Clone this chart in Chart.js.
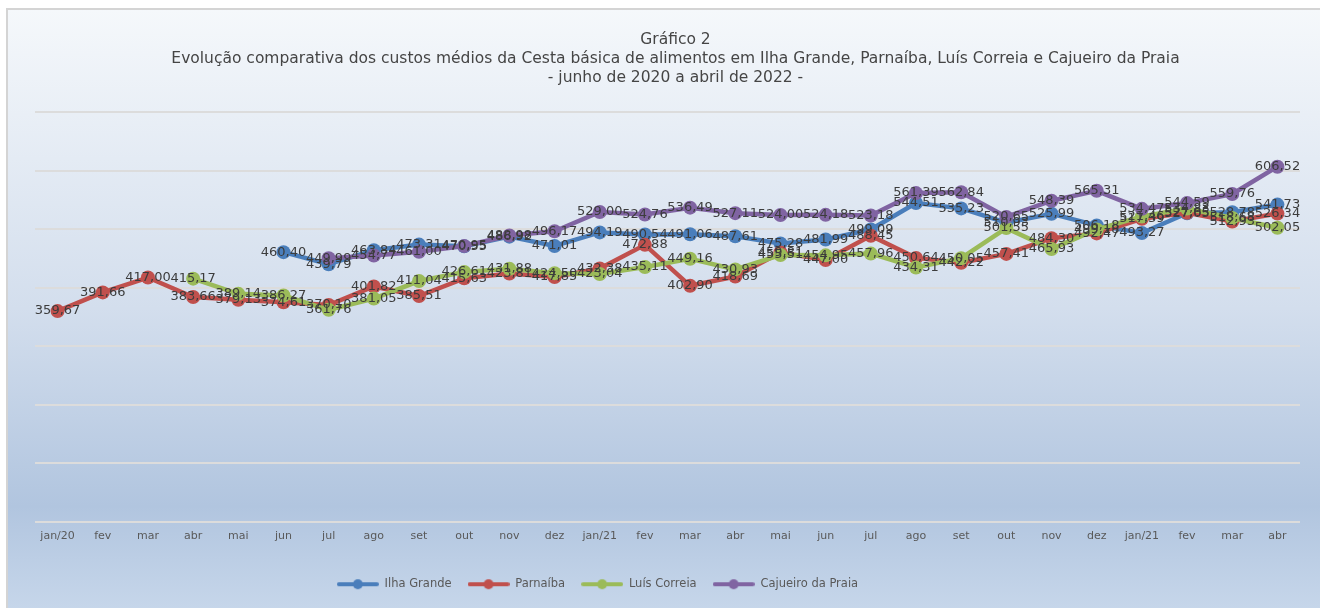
<!DOCTYPE html>
<html>
<head>
<meta charset="utf-8">
<script src="https://cdn.jsdelivr.net/npm/chart.js@4"></script>
<style>
  html, body { margin: 0; padding: 0; background: #ffffff; }
  #wrap { width: 1320px; height: 608px; }
</style>
</head>
<body>
<div id="wrap"><canvas id="cestaChart" width="1320" height="608"></canvas></div>
<script>
// categories (as printed on the original axis)
var months = ['jan/20', 'fev', 'mar', 'abr', 'mai', 'jun', 'jul', 'ago', 'set', 'out', 'nov', 'dez',
              'jan/21', 'fev', 'mar', 'abr', 'mai', 'jun', 'jul', 'ago', 'set', 'out', 'nov', 'dez',
              'jan/21', 'fev', 'mar', 'abr'];

var ilhaGrande = [null, null, null, null, null, 460.40, 439.79, 463.84, 473.31, 470.55, 486.92, 471.01,
                  494.19, 490.54, 491.06, 487.61, 475.28, 481.99, 499.09, 544.51, 535.23, 510.93, 525.99, 506.18,
                  493.27, 527.05, 528.78, 541.73];

var parnaiba = [359.67, 391.66, 417.00, 383.66, 379.13, 374.61, 370.10, 401.82, 385.51, 415.63, 423.81, 417.85,
                432.38, 472.88, 402.90, 418.69, 459.81, 447.00, 488.45, 450.64, 442.22, 457.41, 484.30, 492.47,
                517.39, 527.65, 512.93, 526.34];

var luisCorreia = [null, null, null, 415.17, 389.14, 386.27, 361.76, 381.05, 411.04, 426.61, 431.88, 424.50,
                   423.04, 435.11, 449.16, 430.93, 455.51, 454.95, 457.96, 434.31, 450.05, 501.55, 465.93, 499.18,
                   521.46, 534.83, 518.68, 502.05];

var cajueiro = [null, null, null, null, null, null, 449.99, 454.77, 461.00, 470.95, 488.98, 496.17,
                529.00, 524.76, 536.49, 527.11, 524.00, 524.18, 523.18, 561.39, 562.84, 520.65, 548.39, 565.31,
                534.47, 544.59, 559.76, 606.52];

var seriesNames = ['Ilha Grande', 'Parnaíba', 'Luís Correia', 'Cajueiro da Praia'];
var seriesColors = ['#4a7ebb', '#c0504d', '#9bbb59', '#8064a2'];

var titleLines = ['Gráfico 2',
  'Evolução comparativa dos custos médios da Cesta básica de alimentos em Ilha Grande, Parnaíba, Luís Correia e Cajueiro da Praia',
  '- junho de 2020 a abril de 2022 -'];

// little line+dot images for the legend
function legendMarker(color) {
    var c = document.createElement('canvas');
    c.width = 42; c.height = 14;
    var g = c.getContext('2d');
    g.strokeStyle = color;
    g.lineWidth = 4;
    g.lineCap = 'round';
    g.beginPath(); g.moveTo(2, 7); g.lineTo(40, 7); g.stroke();
    g.fillStyle = color;
    g.beginPath(); g.arc(21, 7, 5, 0, Math.PI * 2); g.fill();
    return c;
}

// background: white strip, frame and the blue gradient
var backgroundPlugin = {
    id: 'bgFill',
    beforeDraw: function(chart) {
        var ctx = chart.ctx;
        ctx.save();
        ctx.fillStyle = '#ffffff';
        ctx.fillRect(0, 0, chart.width, chart.height);
        var grad = ctx.createLinearGradient(0, 9, 0, chart.height);
        grad.addColorStop(0, '#f5f8fb');
        grad.addColorStop(0.5, '#d3deed');
        grad.addColorStop(0.83, '#b1c5df');
        grad.addColorStop(1, '#c6d6ea');
        ctx.fillStyle = grad;
        ctx.fillRect(7, 9, chart.width - 7, chart.height - 9);
        ctx.strokeStyle = '#d4d4d4';
        ctx.lineWidth = 2;
        ctx.beginPath();
        ctx.moveTo(7, chart.height);
        ctx.lineTo(7, 9);
        ctx.lineTo(chart.width, 9);
        ctx.stroke();
        ctx.restore();
    }
};

// value labels centred on every point, Excel style
var valueLabels = {
    id: 'valueLabels',
    afterDatasetsDraw: function(chart) {
        var ctx = chart.ctx;
        ctx.save();
        ctx.font = '13px "DejaVu Sans"';
        ctx.fillStyle = '#3c3c3c';
        ctx.textAlign = 'center';
        ctx.textBaseline = 'middle';
        chart.data.datasets.forEach(function(ds, i) {
            var meta = chart.getDatasetMeta(i);
            meta.data.forEach(function(pt, j) {
                var v = ds.data[j];
                if (v === null || v === undefined) return;
                ctx.fillText(v.toFixed(2).replace('.', ','), pt.x, pt.y);
            });
        });
        ctx.restore();
    }
};

// the original legend and title sit a bit off the plot centre
var nudgePlugin = {
    id: 'nudge',
    afterLayout: function(chart) {
        if (chart.legend) { chart.legend.left -= 70; chart.legend.right -= 70; }
        if (chart.titleBlock) { chart.titleBlock.left += 8; chart.titleBlock.right += 8; }
    }
};

var allSeries = [ilhaGrande, parnaiba, luisCorreia, cajueiro];
var datasets = allSeries.map(function(values, i) {
    return {
        label: seriesNames[i],
        data: values,
        borderColor: seriesColors[i],
        backgroundColor: seriesColors[i],
        pointBackgroundColor: seriesColors[i],
        pointBorderColor: seriesColors[i],
        pointBorderWidth: 0,
        pointRadius: 7,
        pointStyle: 'circle',
        borderWidth: 4.5,
        tension: 0,
        spanGaps: false,
        order: allSeries.length - i,
        legendImage: legendMarker(seriesColors[i])
    };
});

var ctx = document.getElementById('cestaChart').getContext('2d');
new Chart(ctx, {
    type: 'line',
    data: { labels: months, datasets: datasets },
    options: {
        responsive: false,
        animation: false,
        devicePixelRatio: 1,
        layout: { padding: { left: 35, right: 20, top: 10, bottom: 8 } },
        plugins: {
            tooltip: { enabled: false },
            title: {
                display: true,
                text: titleLines,
                color: '#454545',
                font: { family: '"DejaVu Sans"', size: 15.5, weight: 'normal', lineHeight: 19 / 15.5 },
                padding: { top: 20, bottom: 25 }
            },
            legend: {
                position: 'bottom',
                labels: {
                    color: '#595959',
                    font: { family: '"DejaVu Sans"', size: 11.5 },
                    usePointStyle: true,
                    pointStyleWidth: 42,
                    padding: 16,
                    generateLabels: function(chart) {
                        return chart.data.datasets.map(function(ds, i) {
                            return {
                                text: ds.label,
                                fillStyle: ds.borderColor,
                                strokeStyle: ds.borderColor,
                                fontColor: '#595959',
                                lineWidth: 0,
                                pointStyle: ds.legendImage,
                                hidden: false,
                                datasetIndex: i
                            };
                        });
                    }
                }
            }
        },
        scales: {
            x: {
                offset: true,
                grid: { display: false, drawTicks: false },
                border: { display: false },
                ticks: {
                    color: '#595959',
                    font: { family: '"DejaVu Sans"', size: 11 },
                    autoSkip: false,
                    maxRotation: 0,
                    padding: 8
                },
                afterFit: function(scale) { scale.height = 41; }
            },
            y: {
                min: 0,
                max: 700,
                grid: { color: '#dcdcdc', lineWidth: 2, drawTicks: false },
                border: { display: false },
                ticks: { display: false, stepSize: 100 }
            }
        }
    },
    plugins: [backgroundPlugin, valueLabels, nudgePlugin]
});
</script>
</body>
</html>
